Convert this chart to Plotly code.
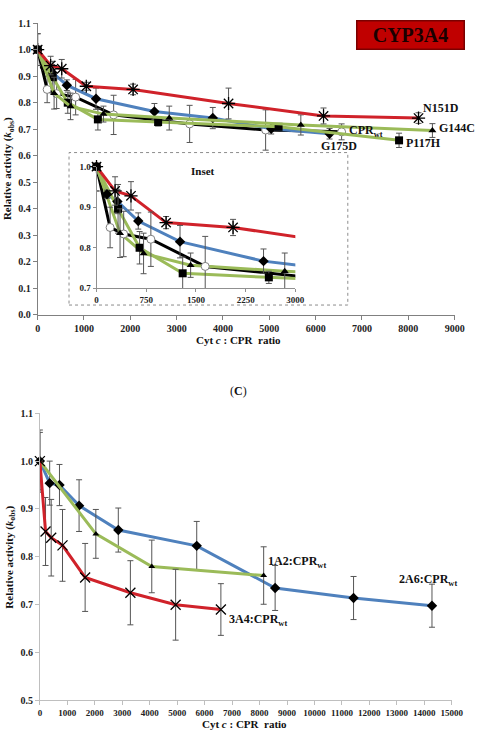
import plotly.graph_objects as go

# ---------------- DATA (top panel, CYP3A4) ----------------
n151d_x = [0, 280, 520, 1050, 2060, 4120, 6170, 8220]
n151d_y = [1.0, 0.940, 0.928, 0.862, 0.850, 0.797, 0.750, 0.742]
n151d_e = [0.06, 0.035, 0.035, 0.015, 0.02, 0.058, 0.03, 0.02]

g175d_x = [0, 157, 315, 630, 1260, 2520, 3780, 5040, 6300]
g175d_y = [1.0, 0.932, 0.914, 0.866, 0.815, 0.767, 0.742, 0.702, 0.683]
g175d_e = [0.0, 0.01, 0.03, 0.02, 0.04, 0.03, 0.04, 0.02, 0.02]

cprwt_x = [0, 205, 410, 820, 1640, 3280, 4920, 6560]
cprwt_y = [1.0, 0.850, 0.834, 0.821, 0.754, 0.720, 0.697, 0.690]
cprwt_e = [0.06, 0.05, 0.056, 0.067, 0.074, 0.07, 0.076, 0.03]

g144c_x = [0, 355, 710, 1420, 2840, 5680, 8520]
g144c_y = [1.0, 0.836, 0.786, 0.757, 0.742, 0.716, 0.695]
g144c_e = [0.0, 0.06, 0.05, 0.03, 0.045, 0.038, 0.026]

p117h_x = [0, 325, 650, 1300, 2600, 5200, 7800]
p117h_y = [1.0, 0.896, 0.800, 0.737, 0.727, 0.709, 0.658]
p117h_e = [0.0, 0.06, 0.04, 0.04, 0.015, 0.01, 0.027]

# ---------------- DATA (bottom panel, C) ----------------
a2a6_x = [0, 357, 714, 1428, 2856, 5712, 8568, 11424, 14280]
a2a6_y = [1.0, 0.954, 0.950, 0.907, 0.856, 0.823, 0.735, 0.714, 0.698]
a2a6_e = [0.06, 0.046, 0.043, 0.054, 0.046, 0.051, 0.047, 0.045, 0.045]

a1a2_x = [0, 2038, 4075, 8150]
a1a2_y = [1.0, 0.848, 0.780, 0.761]
a1a2_e = [0.0, 0.051, 0.055, 0.06]

a3a4_x = [0, 206, 412, 824, 1648, 3296, 4944, 6592]
a3a4_y = [1.0, 0.853, 0.840, 0.824, 0.757, 0.725, 0.700, 0.690]
a3a4_e = [0.065, 0.071, 0.08, 0.075, 0.071, 0.067, 0.074, 0.054]

top_ticks = list(range(0, 9001, 1000))
inset_ticks = [0, 750, 1500, 2250, 3000]
bot_ticks = list(range(0, 15001, 1000))

# ---------------- STYLE ----------------
RED = "#d0222a"
BLUE = "#4f81bd"
GREEN = "#9bbb59"
BLACK = "#000000"
ERR = "#555555"
SERIF = "Liberation Serif"
W, H = 489, 735


def px_x(p):
    return p / W


def px_y(p):
    return 1 - p / H


top_series = [
    ("CPRwt", cprwt_x, cprwt_y, cprwt_e, BLACK,
     dict(symbol="circle", size=8, color="white", line=dict(color="#7f7f7f", width=1))),
    ("G175D", g175d_x, g175d_y, g175d_e, BLUE,
     dict(symbol="diamond", size=8, color="black")),
    ("P117H", p117h_x, p117h_y, p117h_e, GREEN,
     dict(symbol="square", size=8, color="black")),
    ("G144C", g144c_x, g144c_y, g144c_e, GREEN,
     dict(symbol="triangle-up", size=7, color="black")),
    ("N151D", n151d_x, n151d_y, n151d_e, RED,
     dict(symbol="asterisk-open", size=11, color="black", line=dict(color="black", width=1.3))),
]

fig = go.Figure()

# main top panel
for name, xs, ys, es, col, mk in top_series:
    fig.add_trace(go.Scatter(
        x=xs, y=ys, mode="lines+markers", name=name,
        line=dict(color=col, width=3), marker=mk,
        error_y=dict(type="data", array=es, color=ERR, thickness=1, width=3),
        xaxis="x", yaxis="y", cliponaxis=False, showlegend=False))

# inset panel: lines (clipped) + markers within range
for name, xs, ys, es, col, mk in top_series:
    fig.add_trace(go.Scatter(
        x=xs, y=ys, mode="lines", line=dict(color=col, width=3),
        xaxis="x2", yaxis="y2", showlegend=False, hoverinfo="skip"))
for name, xs, ys, es, col, mk in top_series:
    keep = [i for i, v in enumerate(xs) if v <= 3000]
    fig.add_trace(go.Scatter(
        x=[xs[i] for i in keep], y=[ys[i] for i in keep], mode="markers",
        marker=mk,
        error_y=dict(type="data", array=[es[i] for i in keep], color=ERR, thickness=1, width=3),
        xaxis="x2", yaxis="y2", cliponaxis=False, showlegend=False))

# bottom panel
bot_series = [
    ("2A6", a2a6_x, a2a6_y, a2a6_e, BLUE, dict(symbol="diamond", size=8, color="black")),
    ("1A2", a1a2_x, a1a2_y, a1a2_e, GREEN, dict(symbol="triangle-up", size=6, color="black")),
    ("3A4", a3a4_x, a3a4_y, a3a4_e, RED,
     dict(symbol="x-thin-open", size=10, color="black", line=dict(color="black", width=1.3))),
]
for name, xs, ys, es, col, mk in bot_series:
    fig.add_trace(go.Scatter(
        x=xs, y=ys, mode="lines+markers", name=name,
        line=dict(color=col, width=3), marker=mk,
        error_y=dict(type="data", array=es, color=ERR, thickness=1, width=3),
        xaxis="x3", yaxis="y3", cliponaxis=False, showlegend=False))

tickf = dict(family=SERIF, size=10, color="#222222", weight="bold")
axis_common = dict(showgrid=False, zeroline=False, showline=True, linecolor="#808080",
                   linewidth=1, ticks="outside", ticklen=4, tickcolor="#808080",
                   tickfont=tickf)

fig.update_layout(
    width=W, height=H, margin=dict(l=0, r=0, t=0, b=0),
    paper_bgcolor="white", plot_bgcolor="rgba(0,0,0,0)",
    xaxis=dict(domain=[px_x(36.7), px_x(466)], range=[0, 9000], tickvals=top_ticks,
               ticktext=[str(v) for v in top_ticks], anchor="y", **axis_common),
    yaxis=dict(domain=[px_y(314), px_y(17.4)], range=[0, 1.1], dtick=0.1, tick0=0,
               tickformat=".1f", anchor="x", **axis_common),
    xaxis2=dict(domain=[px_x(97.3), px_x(302)], range=[0, 3000], tickvals=inset_ticks,
                ticktext=[str(v) for v in inset_ticks],
                anchor="y2", showgrid=False, zeroline=False, showline=True,
                linecolor="#909090", ticks="outside", ticklen=3, tickcolor="#909090",
                tickfont=dict(family=SERIF, size=9, color="#222222", weight="bold")),
    yaxis2=dict(domain=[px_y(287), px_y(163.3)], range=[0.7, 1.0], tickvals=[0.7, 0.8, 0.9, 1.0],
                tickformat=".1f", anchor="x2", showgrid=False, zeroline=False, showline=True,
                linecolor="#909090", ticks="outside", ticklen=3, tickcolor="#909090",
                tickfont=dict(family=SERIF, size=9, color="#222222", weight="bold")),
    xaxis3=dict(domain=[px_x(39), px_x(463)], range=[0, 15000], tickvals=bot_ticks,
                ticktext=[str(v) for v in bot_ticks],
                anchor="y3", showgrid=False, zeroline=False, showline=True, linecolor="#bfbfbf",
                ticks="outside", ticklen=4, tickcolor="#bfbfbf",
                tickfont=dict(family=SERIF, size=9, color="#222222", weight="bold")),
    yaxis3=dict(domain=[px_y(706), px_y(414)], range=[0.5, 1.1], dtick=0.1, tick0=0.5,
                tickformat=".1f", anchor="x3", showgrid=False, zeroline=False, showline=True,
                linecolor="#bfbfbf", ticks="outside", ticklen=4, tickcolor="#bfbfbf",
                tickfont=dict(family=SERIF, size=10, color="#222222", weight="bold")),
)

shapes = [
    # inset dashed frame
    dict(type="rect", xref="paper", yref="paper", x0=px_x(69), x1=px_x(356),
         y0=px_y(304), y1=px_y(149), line=dict(color="#8c8c8c", width=1, dash="dot"),
         fillcolor="rgba(0,0,0,0)", layer="below"),
]
fig.update_layout(shapes=shapes)

lab = dict(family=SERIF, size=12, color="#111111", weight="bold")
lab_s = dict(family=SERIF, size=11, color="#111111", weight="bold")
ttl = dict(family=SERIF, size=11, color="#111111", weight="bold")
ann = [
    dict(text="CYP3A4", xref="paper", yref="paper", x=px_x(420.5), y=px_y(29.5),
         xanchor="center", yanchor="middle", showarrow=False,
         bgcolor="#c00000", bordercolor="#7a0000", borderwidth=1.5, borderpad=0,
         width=106, height=27,
         font=dict(family=SERIF, size=20, color="#1a0000", weight="bold")),
    # main top labels
    dict(text="N151D", xref="x", yref="y", x=8281, y=0.781, xanchor="left", showarrow=False, font=lab),
    dict(text="G144C", xref="x", yref="y", x=8629, y=0.704, xanchor="left", showarrow=False, font=lab),
    dict(text="CPR<sub>wt</sub>", xref="x", yref="y", x=6673, y=0.694, xanchor="left", showarrow=False, font=lab),
    dict(text="G175D", xref="x", yref="y", x=6065, y=0.638, xanchor="left", showarrow=False, font=lab),
    dict(text="P117H", xref="x", yref="y", x=7896, y=0.647, xanchor="left", showarrow=False, font=lab),
    # inset labels
    dict(text="Inset", xref="paper", yref="paper", x=px_x(206.7), y=px_y(167.3),
         xanchor="center", yanchor="middle", showarrow=False, font=ttl),
    dict(text="N151D", xref="x2", yref="y2", x=3068, y=0.828, xanchor="left", showarrow=False, font=lab_s),
    dict(text="G175D", xref="x2", yref="y2", x=3068, y=0.779, xanchor="left", showarrow=False, font=lab_s),
    dict(text="G144C", xref="x2", yref="y2", x=3068, y=0.754, xanchor="left", showarrow=False, font=lab_s),
    dict(text="CPR<sub>wt</sub>", xref="x2", yref="y2", x=3068, y=0.729, xanchor="left", showarrow=False, font=lab_s),
    dict(text="P117H", xref="x2", yref="y2", x=3068, y=0.706, xanchor="left", showarrow=False, font=lab_s),
    # bottom labels
    dict(text="1A2:CPR<sub>wt</sub>", xref="x3", yref="y3", x=8244, y=0.790, xanchor="left", showarrow=False, font=lab),
    dict(text="2A6:CPR<sub>wt</sub>", xref="x3", yref="y3", x=12993, y=0.752, xanchor="left", showarrow=False, font=lab),
    dict(text="3A4:CPR<sub>wt</sub>", xref="x3", yref="y3", x=6809, y=0.668, xanchor="left", showarrow=False, font=lab),
    # axis titles
    dict(text="Relative activity (<i>k</i><sub>obs</sub>)", xref="paper", yref="paper",
         x=px_x(7), y=px_y(165), xanchor="center", yanchor="middle", textangle=-90,
         showarrow=False, font=ttl),
    dict(text="Relative activity (<i>k</i><sub>obs</sub>)", xref="paper", yref="paper",
         x=px_x(8), y=px_y(560), xanchor="center", yanchor="middle", textangle=-90,
         showarrow=False, font=ttl),
    dict(text="Cyt <i>c</i> : CPR  ratio", xref="paper", yref="paper",
         x=px_x(243), y=px_y(340), xanchor="center", yanchor="middle", showarrow=False, font=ttl),
    dict(text="Cyt <i>c</i> : CPR  ratio", xref="paper", yref="paper",
         x=px_x(250), y=px_y(729.5), xanchor="center", yanchor="middle", showarrow=False, font=ttl),
    dict(text="(<b>C</b>)", xref="paper", yref="paper", x=px_x(243), y=px_y(391),
         xanchor="center", yanchor="middle", showarrow=False,
         font=dict(family=SERIF, size=12, color="#111111")),
]
fig.update_layout(annotations=ann)

fig.write_html("out.html")
